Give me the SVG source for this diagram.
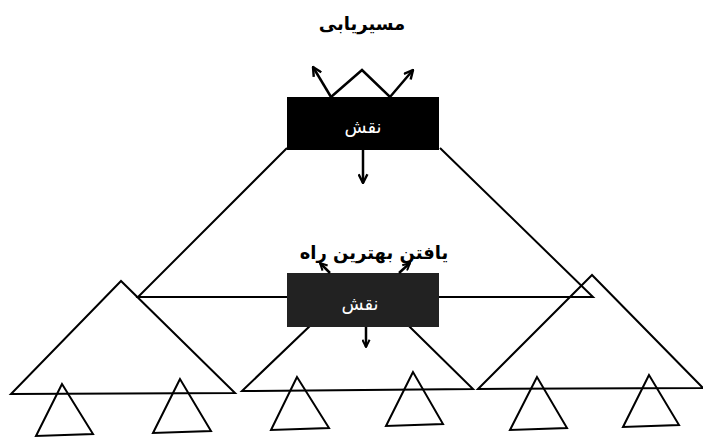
<svg xmlns="http://www.w3.org/2000/svg" width="703" height="438" viewBox="0 0 703 438">
<defs>
<style>
.tri{fill:none;stroke:#000;stroke-width:2;stroke-linejoin:miter}
.ln{fill:none;stroke:#000;stroke-width:2}
.conn{fill:none;stroke:#000;stroke-width:2.5}
.lbl{font-family:"DejaVu Sans","Noto Sans",sans-serif;font-size:18px;fill:#fff;text-anchor:middle}
.ttl{font-family:"DejaVu Sans","Noto Sans",sans-serif;font-size:18px;font-weight:bold;fill:#000;text-anchor:middle}
</style>
<marker id="ah" viewBox="0 0 10 10" refX="9" refY="5" markerWidth="11" markerHeight="11" markerUnits="userSpaceOnUse" orient="auto">
<path d="M1,1 L9,5 L1,9" fill="none" stroke="#000" stroke-width="2.2"/>
</marker>
<marker id="ahs" viewBox="0 0 10 10" refX="9" refY="5" markerWidth="9" markerHeight="9" markerUnits="userSpaceOnUse" orient="auto">
<path d="M1,1 L9,5 L1,9" fill="none" stroke="#000" stroke-width="2.2"/>
</marker>
</defs>
<rect width="703" height="438" fill="#fff"/>

<g id="big-triangle">
<polyline class="ln" points="287,148 138,297 593,297 440,148"/>
</g>

<g id="mid-left"><polygon class="tri" points="121,281 11,394 235,393"/></g>
<g id="mid-center"><polygon class="tri" points="360,278 242,391 473,389"/></g>
<g id="mid-right"><polygon class="tri" points="592,275 478,389 703,388"/></g>

<g id="leaf-1"><polygon class="tri" points="62,384 36,436 93,434"/></g>
<g id="leaf-2"><polygon class="tri" points="180,379 153,433 211,431"/></g>
<g id="leaf-3"><polygon class="tri" points="297,377 271,430 329,428"/></g>
<g id="leaf-4"><polygon class="tri" points="413,372 386,426 443,424"/></g>
<g id="leaf-5"><polygon class="tri" points="537,377 510,430 567,428"/></g>
<g id="leaf-6"><polygon class="tri" points="649,375 623,427 679,425"/></g>

<g id="box-top">
<rect x="287" y="97" width="152" height="53" fill="#000"/>
<text class="lbl" x="363" y="133">نقش</text>
</g>

<g id="box-mid">
<rect x="287" y="273" width="152" height="54" fill="#222"/>
<text class="lbl" x="360" y="310">نقش</text>
</g>

<g id="title-top"><text class="ttl" x="362" y="30" direction="rtl">مسیریابی</text></g>
<g id="title-mid"><text class="ttl" x="374" y="259" direction="rtl">یافتن بهترین راه</text></g>

<g id="connectors">
<path class="conn" d="M331,97 L313,67" marker-end="url(#ah)"/>
<path class="conn" d="M331,97 L362,70 L390,97 L413,70" marker-end="url(#ah)"/>
<path class="conn" d="M363,150 L363,183" marker-end="url(#ah)"/>
<path class="conn" d="M330,273 L320,263" marker-end="url(#ahs)"/>
<path class="conn" d="M399,273 L410,263" marker-end="url(#ahs)"/>
<path class="conn" d="M366,327 L366,347" marker-end="url(#ahs)"/>
</g>
</svg>
